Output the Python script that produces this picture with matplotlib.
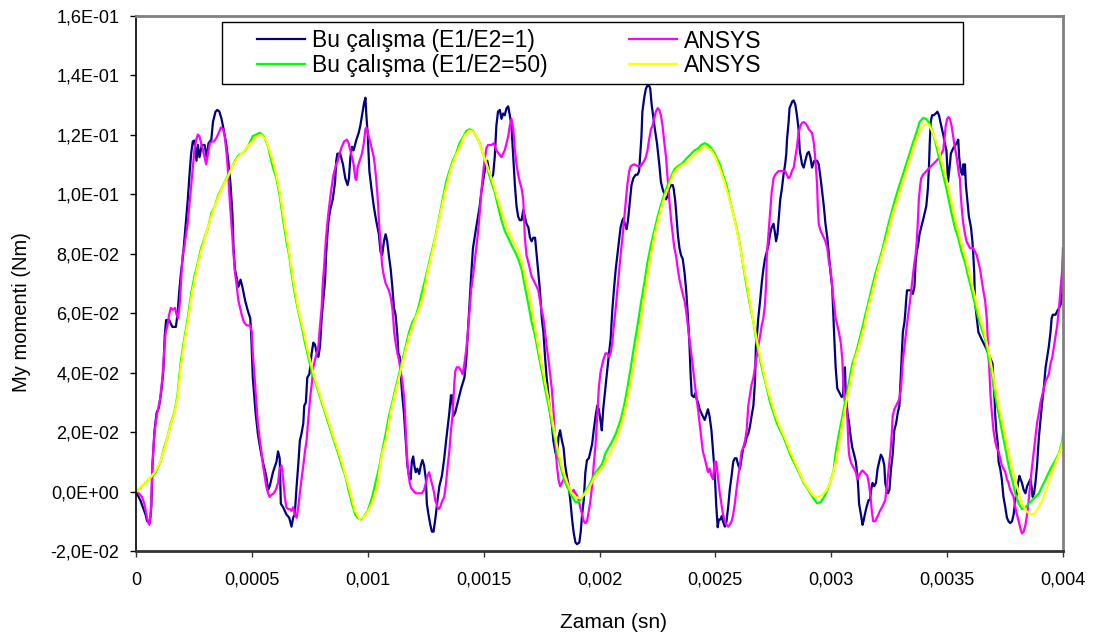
import numpy as np
import matplotlib.pyplot as plt
from matplotlib.patches import Rectangle
from matplotlib.lines import Line2D

plt.rcParams['font.family'] = ['Liberation Sans', 'DejaVu Sans']

# time in microseconds, moment in Nm

# Bu calisma (E1/E2=1)
navy_t_us = [
    0, 19, 41, 48, 60, 66, 71, 80, 89, 99,
    109, 118, 124, 130, 143, 157, 172, 179, 187, 194,
    203, 208, 216, 223, 232, 238, 245, 252, 261, 267,
    274, 284, 296, 305, 313, 325, 332, 343, 351, 360,
    369, 378, 389, 398, 407, 416, 421, 427, 436, 442,
    451, 459, 471, 483, 493, 497, 504, 516, 526, 533,
    541, 551, 562, 570, 577, 591, 606, 613, 620, 625,
    635, 649, 661, 671, 678, 685, 693, 700, 707, 714,
    722, 726, 733, 739, 748, 758, 765, 772, 780, 787,
    794, 801, 809, 816, 820, 826, 831, 838, 849, 859,
    864, 869, 881, 893, 903, 913, 919, 925, 932, 939,
    951, 961, 968, 978, 984, 990, 994, 1000, 1007, 1016,
    1026, 1036, 1048, 1055, 1062, 1070, 1077, 1084, 1091, 1099,
    1106, 1113, 1120, 1128, 1132, 1138, 1142, 1149, 1156, 1161,
    1167, 1171, 1178, 1185, 1190, 1196, 1201, 1207, 1214, 1222,
    1229, 1236, 1243, 1251, 1255, 1262, 1270, 1277, 1284, 1290,
    1294, 1301, 1309, 1320, 1330, 1338, 1345, 1352, 1359, 1364,
    1369, 1377, 1388, 1403, 1417, 1425, 1432, 1439, 1446, 1454,
    1468, 1483, 1490, 1497, 1507, 1516, 1526, 1533, 1541, 1548,
    1555, 1562, 1570, 1577, 1584, 1591, 1599, 1606, 1613, 1620,
    1628, 1635, 1642, 1649, 1656, 1664, 1671, 1678, 1685, 1693,
    1700, 1707, 1714, 1722, 1729, 1736, 1743, 1751, 1758, 1765,
    1772, 1780, 1787, 1794, 1801, 1809, 1816, 1823, 1830, 1838,
    1845, 1852, 1859, 1867, 1874, 1881, 1888, 1896, 1903, 1913,
    1919, 1925, 1932, 1939, 1946, 1954, 1961, 1968, 1975, 1983,
    1990, 1997, 2004, 2010, 2016, 2022, 2030, 2041, 2048, 2055,
    2062, 2070, 2077, 2084, 2091, 2099, 2103, 2109, 2117, 2123,
    2132, 2138, 2146, 2156, 2164, 2171, 2175, 2181, 2185, 2193,
    2200, 2207, 2214, 2219, 2225, 2233, 2239, 2248, 2258, 2265,
    2272, 2280, 2287, 2294, 2301, 2309, 2316, 2320, 2326, 2330,
    2338, 2345, 2352, 2359, 2367, 2374, 2381, 2388, 2393, 2398,
    2407, 2413, 2419, 2425, 2432, 2439, 2446, 2454, 2461, 2468,
    2475, 2483, 2490, 2497, 2504, 2510, 2515, 2522, 2528, 2533,
    2541, 2548, 2555, 2562, 2570, 2577, 2584, 2591, 2599, 2606,
    2613, 2620, 2628, 2635, 2642, 2649, 2656, 2664, 2671, 2675,
    2678, 2685, 2693, 2700, 2707, 2714, 2722, 2729, 2736, 2743,
    2751, 2758, 2762, 2768, 2774, 2780, 2787, 2794, 2801, 2806,
    2809, 2816, 2820, 2826, 2832, 2838, 2845, 2852, 2859, 2864,
    2869, 2874, 2881, 2888, 2896, 2903, 2910, 2917, 2922, 2927,
    2939, 2946, 2954, 2961, 2968, 2975, 2983, 2990, 2997, 3004,
    3009, 3014, 3019, 3026, 3033, 3041, 3045, 3051, 3055, 3059,
    3062, 3070, 3077, 3084, 3091, 3099, 3106, 3113, 3117, 3120,
    3128, 3135, 3139, 3145, 3152, 3161, 3167, 3172, 3178, 3185,
    3193, 3200, 3207, 3214, 3222, 3229, 3233, 3239, 3245, 3251,
    3258, 3265, 3272, 3280, 3287, 3294, 3299, 3303, 3309, 3316,
    3320, 3323, 3327, 3338, 3345, 3352, 3359, 3364, 3369, 3375,
    3381, 3388, 3396, 3403, 3410, 3417, 3422, 3425, 3429, 3435,
    3442, 3451, 3458, 3465, 3471, 3478, 3483, 3490, 3497, 3504,
    3512, 3516, 3522, 3530, 3541, 3548, 3552, 3559, 3565, 3570,
    3574, 3577, 3581, 3588, 3594, 3603, 3609, 3613, 3617, 3620,
    3628, 3635, 3649, 3664, 3678, 3690, 3696, 3700, 3704, 3707,
    3712, 3719, 3722, 3729, 3736, 3743, 3751, 3758, 3765, 3772,
    3780, 3787, 3794, 3801, 3806, 3812, 3817, 3823, 3830, 3838,
    3845, 3852, 3859, 3864, 3869, 3875, 3881, 3888, 3896, 3903,
    3910, 3917, 3925, 3932, 3939, 3946, 3951, 3956, 3968, 3975,
    3983, 3990, 3997, 4000,
]
navy_my = [
    0.0, -0.0030, -0.0077, -0.0100, -0.0106, -0.0053, 0.0088, 0.0206, 0.0265, 0.0283,
    0.0336, 0.0406, 0.0524, 0.0577, 0.0577, 0.0554, 0.0554, 0.0595, 0.0677, 0.0736,
    0.0795, 0.0842, 0.0913, 0.0978, 0.1078, 0.1137, 0.1178, 0.1181, 0.1113, 0.1166,
    0.1125, 0.1166, 0.1166, 0.1125, 0.1172, 0.1184, 0.1243, 0.1278, 0.1284, 0.1278,
    0.1254, 0.1219, 0.1172, 0.1113, 0.1042, 0.0936, 0.0819, 0.0748, 0.0713, 0.0689,
    0.0713, 0.0689, 0.0642, 0.0607, 0.0583, 0.0530, 0.0383, 0.0265, 0.0194, 0.0159,
    0.0124, 0.0088, 0.0052, 0.0006, 0.0018, 0.0065, 0.0100, 0.0135, 0.0112, -0.0041,
    -0.0053, -0.0077, -0.0088, -0.0118, -0.0088, -0.0077, 0.0018, 0.0088, 0.0171, 0.0194,
    0.0230, 0.0289, 0.0300, 0.0383, 0.0395, 0.0465, 0.0501, 0.0495, 0.0465, 0.0453,
    0.0489, 0.0583, 0.0654, 0.0713, 0.0795, 0.0866, 0.0913, 0.0948, 0.0983, 0.1042,
    0.1113, 0.1137, 0.1137, 0.1101, 0.1054, 0.1031, 0.1054, 0.1125, 0.1160, 0.1148,
    0.1184, 0.1207, 0.1231, 0.1278, 0.1307, 0.1325, 0.1266, 0.1200, 0.1078, 0.1019,
    0.0960, 0.0913, 0.0866, 0.0807, 0.0795, 0.0842, 0.0866, 0.0842, 0.0795, 0.0748,
    0.0689, 0.0618, 0.0595, 0.0524, 0.0465, 0.0453, 0.0395, 0.0324, 0.0265, 0.0206,
    0.0135, 0.0088, 0.0053, 0.0041, 0.0100, 0.0118, 0.0088, 0.0065, 0.0077, 0.0059,
    0.0088, 0.0106, 0.0088, 0.0041, -0.0041, -0.0077, -0.0112, -0.0135, -0.0135, -0.0100,
    -0.0077, -0.0029, 0.0018, 0.0053, 0.0112, 0.0171, 0.0218, 0.0265, 0.0324, 0.0324,
    0.0253, 0.0265, 0.0300, 0.0347, 0.0383, 0.0442, 0.0536, 0.0630, 0.0724, 0.0819,
    0.0889, 0.0960, 0.1007, 0.1042, 0.1090, 0.1113, 0.1066, 0.1054, 0.1066, 0.1125,
    0.1231, 0.1278, 0.1284, 0.1254, 0.1272, 0.1266, 0.1290, 0.1296, 0.1266, 0.1231,
    0.1125, 0.1031, 0.0960, 0.0925, 0.0913, 0.0913, 0.0948, 0.0925, 0.0901, 0.0889,
    0.0854, 0.0842, 0.0854, 0.0854, 0.0795, 0.0736, 0.0677, 0.0583, 0.0536, 0.0453,
    0.0383, 0.0324, 0.0265, 0.0230, 0.0171, 0.0135, 0.0112, 0.0183, 0.0206, 0.0171,
    0.0147, 0.0088, 0.0053, 0.0018, -0.0029, -0.0088, -0.0135, -0.0171, -0.0177, -0.0171,
    -0.0135, -0.0077, -0.0029, 0.0065, 0.0106, 0.0112, 0.0135, 0.0159, 0.0206, 0.0253,
    0.0289, 0.0277, 0.0241, 0.0206, 0.0277, 0.0324, 0.0383, 0.0465, 0.0512, 0.0607,
    0.0677, 0.0748, 0.0795, 0.0842, 0.0889, 0.0913, 0.0919, 0.0901, 0.0883, 0.0913,
    0.0983, 0.1031, 0.1054, 0.1066, 0.1066, 0.1078, 0.1125, 0.1195, 0.1278, 0.1325,
    0.1355, 0.1366, 0.1366, 0.1355, 0.1302, 0.1254, 0.1219, 0.1172, 0.1101, 0.1042,
    0.1019, 0.1001, 0.0983, 0.0995, 0.1019, 0.1031, 0.1031, 0.1019, 0.0983, 0.0948,
    0.0866, 0.0819, 0.0795, 0.0783, 0.0736, 0.0677, 0.0594, 0.0500, 0.0395, 0.0324,
    0.0318, 0.0330, 0.0312, 0.0300, 0.0277, 0.0265, 0.0253, 0.0241, 0.0259, 0.0277,
    0.0253, 0.0206, 0.0135, 0.0065, -0.0050, -0.0120, -0.0094, -0.0094, -0.0082, -0.0100,
    -0.0118, -0.0100, -0.0053, 0.0006, 0.0053, 0.0100, 0.0112, 0.0112, 0.0088, 0.0077,
    0.0112, 0.0147, 0.0159, 0.0183, 0.0194, 0.0218, 0.0253, 0.0289, 0.0371, 0.0489,
    0.0512, 0.0583, 0.0642, 0.0701, 0.0748, 0.0783, 0.0807, 0.0830, 0.0866, 0.0889,
    0.0901, 0.0866, 0.0842, 0.0866, 0.0925, 0.0983, 0.1019, 0.1066, 0.1101, 0.1137,
    0.1184, 0.1243, 0.1290, 0.1302, 0.1313, 0.1316, 0.1302, 0.1266, 0.1219, 0.1148,
    0.1125, 0.1101, 0.1090, 0.1113, 0.1137, 0.1143, 0.1125, 0.1090, 0.1101, 0.1113,
    0.1113, 0.1101, 0.1054, 0.1007, 0.0960, 0.0901, 0.0854, 0.0795, 0.0736, 0.0689,
    0.0595, 0.0501, 0.0418, 0.0347, 0.0336, 0.0324, 0.0318, 0.0324, 0.0406, 0.0418,
    0.0347, 0.0265, 0.0230, 0.0183, 0.0147, 0.0124, 0.0100, 0.0053, 0.0006, -0.0041,
    -0.0077, -0.0112, -0.0100, -0.0077, -0.0053, -0.0029, -0.0029, 0.0006, 0.0029, 0.0018,
    0.0029, 0.0077, 0.0100, 0.0124, 0.0112, 0.0088, 0.0029, 0.0006, -0.0006, 0.0006,
    0.0077, 0.0124, 0.0206, 0.0230, 0.0265, 0.0289, 0.0371, 0.0442, 0.0536, 0.0571,
    0.0607, 0.0642, 0.0677, 0.0677, 0.0677, 0.0665, 0.0689, 0.0771, 0.0807, 0.0830,
    0.0866, 0.0889, 0.0913, 0.0936, 0.0960, 0.1019, 0.1101, 0.1172, 0.1243, 0.1266,
    0.1266, 0.1272, 0.1278, 0.1266, 0.1243, 0.1219, 0.1201, 0.1172, 0.1148, 0.1042,
    0.1101, 0.1137, 0.1148, 0.1160, 0.1172, 0.1184, 0.1125, 0.1078, 0.1066, 0.1101,
    0.1066, 0.1101, 0.1031, 0.0972, 0.0925, 0.0889, 0.0842, 0.0795, 0.0736, 0.0642,
    0.0583, 0.0536, 0.0512, 0.0489, 0.0465, 0.0442, 0.0430, 0.0371, 0.0324, 0.0265,
    0.0206, 0.0159, 0.0100, 0.0077, 0.0041, -0.0018, -0.0053, -0.0088, -0.0100, -0.0106,
    -0.0100, -0.0077, -0.0029, -0.0006, 0.0029, 0.0053, 0.0041, 0.0029, 0.0006, -0.0006,
    0.0018, 0.0029, 0.0041, 0.0018, -0.0018, -0.0006, 0.0029, 0.0088, 0.0183, 0.0241,
    0.0300, 0.0347, 0.0418, 0.0453, 0.0489, 0.0536, 0.0583, 0.0595, 0.0595, 0.0607,
    0.0618, 0.0630, 0.0665, 0.0819,
]

# ANSYS (E1/E2=1)
mag_t_us = [
    0, 12, 26, 36, 45, 51, 57, 63, 67, 71,
    77, 85, 92, 104, 114, 121, 128, 136, 143, 150,
    159, 168, 175, 182, 190, 194, 201, 208, 216, 223,
    230, 238, 245, 252, 260, 267, 274, 281, 289, 296,
    303, 308, 313, 319, 328, 337, 347, 357, 366, 376,
    383, 391, 398, 405, 413, 420, 427, 435, 442, 449,
    456, 465, 478, 493, 500, 504, 512, 519, 526, 533,
    541, 548, 555, 562, 570, 577, 584, 594, 603, 613,
    620, 628, 635, 642, 649, 656, 664, 671, 678, 685,
    693, 700, 707, 714, 722, 729, 736, 743, 751, 758,
    765, 772, 780, 787, 794, 801, 806, 812, 820, 830,
    841, 852, 864, 871, 878, 888, 898, 910, 917, 925,
    932, 939, 946, 951, 956, 965, 975, 983, 990, 994,
    1000, 1004, 1012, 1019, 1026, 1030, 1036, 1041, 1045, 1048,
    1052, 1055, 1059, 1062, 1070, 1077, 1084, 1091, 1099, 1106,
    1110, 1114, 1120, 1128, 1135, 1142, 1149, 1156, 1161, 1164,
    1167, 1171, 1175, 1181, 1187, 1193, 1207, 1222, 1233, 1243,
    1251, 1258, 1265, 1272, 1280, 1287, 1291, 1297, 1301, 1306,
    1312, 1317, 1323, 1330, 1338, 1345, 1352, 1359, 1367, 1371,
    1374, 1378, 1384, 1393, 1403, 1410, 1417, 1425, 1432, 1439,
    1446, 1454, 1461, 1468, 1475, 1483, 1490, 1497, 1504, 1512,
    1519, 1533, 1545, 1555, 1565, 1577, 1584, 1591, 1599, 1606,
    1613, 1620, 1628, 1635, 1642, 1649, 1656, 1664, 1671, 1675,
    1678, 1685, 1693, 1700, 1707, 1714, 1722, 1729, 1736, 1743,
    1751, 1758, 1765, 1772, 1780, 1787, 1794, 1801, 1806, 1812,
    1816, 1823, 1830, 1838, 1845, 1852, 1859, 1867, 1874, 1881,
    1888, 1896, 1903, 1910, 1917, 1925, 1932, 1939, 1946, 1954,
    1961, 1968, 1975, 1983, 1990, 1997, 2004, 2016, 2026, 2033,
    2041, 2048, 2055, 2062, 2070, 2077, 2084, 2091, 2099, 2106,
    2113, 2120, 2128, 2135, 2149, 2164, 2178, 2193, 2200, 2207,
    2214, 2222, 2229, 2236, 2243, 2251, 2258, 2265, 2272, 2280,
    2287, 2294, 2301, 2309, 2316, 2323, 2330, 2338, 2345, 2352,
    2359, 2367, 2374, 2381, 2388, 2396, 2403, 2410, 2417, 2425,
    2432, 2439, 2446, 2454, 2461, 2468, 2475, 2483, 2490, 2497,
    2504, 2512, 2519, 2526, 2533, 2541, 2548, 2555, 2562, 2570,
    2577, 2584, 2591, 2599, 2606, 2613, 2620, 2628, 2635, 2642,
    2649, 2656, 2664, 2671, 2678, 2685, 2693, 2700, 2707, 2714,
    2719, 2722, 2729, 2736, 2743, 2751, 2758, 2772, 2787, 2801,
    2816, 2823, 2830, 2838, 2845, 2852, 2859, 2867, 2874, 2881,
    2888, 2896, 2903, 2917, 2925, 2932, 2939, 2942, 2946, 2954,
    2961, 2968, 2975, 2983, 2990, 2997, 3004, 3012, 3019, 3026,
    3033, 3041, 3048, 3051, 3055, 3059, 3065, 3070, 3074, 3077,
    3084, 3091, 3099, 3106, 3113, 3120, 3128, 3135, 3142, 3149,
    3156, 3164, 3171, 3175, 3181, 3190, 3197, 3204, 3210, 3219,
    3226, 3233, 3236, 3243, 3251, 3258, 3262, 3265, 3272, 3280,
    3287, 3294, 3301, 3309, 3316, 3323, 3330, 3338, 3345, 3352,
    3359, 3364, 3369, 3374, 3378, 3384, 3388, 3396, 3410, 3425,
    3439, 3454, 3468, 3475, 3483, 3490, 3494, 3500, 3506, 3512,
    3519, 3526, 3533, 3541, 3545, 3551, 3555, 3559, 3565, 3570,
    3577, 3584, 3591, 3599, 3613, 3620, 3628, 3635, 3642, 3649,
    3656, 3664, 3671, 3675, 3678, 3683, 3687, 3693, 3700, 3707,
    3714, 3722, 3729, 3736, 3743, 3751, 3758, 3765, 3772, 3780,
    3787, 3794, 3801, 3809, 3816, 3823, 3830, 3838, 3845, 3852,
    3859, 3867, 3874, 3881, 3888, 3896, 3903, 3910, 3917, 3925,
    3932, 3939, 3946, 3954, 3961, 3968, 3975, 3983, 3990, 3997,
    4000,
]
mag_my = [
    0.0, -0.0006, -0.0018, -0.0041, -0.0077, -0.0100, -0.0112, -0.0077, -0.0006, 0.0088,
    0.0171, 0.0230, 0.0265, 0.0312, 0.0383, 0.0465, 0.0536, 0.0559, 0.0595, 0.0618,
    0.0612, 0.0618, 0.0595, 0.0583, 0.0642, 0.0701, 0.0795, 0.0819, 0.0866, 0.0901,
    0.0960, 0.1031, 0.1090, 0.1148, 0.1184, 0.1201, 0.1195, 0.1172, 0.1148, 0.1125,
    0.1101, 0.1125, 0.1148, 0.1172, 0.1178, 0.1178, 0.1190, 0.1207, 0.1225, 0.1219,
    0.1195, 0.1137, 0.1066, 0.0972, 0.0889, 0.0807, 0.0736, 0.0689, 0.0642, 0.0618,
    0.0595, 0.0571, 0.0559, 0.0559, 0.0536, 0.0465, 0.0383, 0.0300, 0.0230, 0.0183,
    0.0135, 0.0088, 0.0053, 0.0018, -0.0006, -0.0018, -0.0012, -0.0006, 0.0006, 0.0029,
    0.0077, 0.0088, 0.0041, -0.0018, -0.0053, -0.0059, -0.0059, -0.0065, -0.0053, -0.0077,
    -0.0088, -0.0053, -0.0006, 0.0041, 0.0088, 0.0135, 0.0171, 0.0241, 0.0312, 0.0359,
    0.0418, 0.0442, 0.0465, 0.0489, 0.0559, 0.0618, 0.0701, 0.0760, 0.0854, 0.0936,
    0.1007, 0.1066, 0.1101, 0.1113, 0.1137, 0.1160, 0.1178, 0.1184, 0.1172, 0.1148,
    0.1125, 0.1101, 0.1054, 0.1048, 0.1090, 0.1113, 0.1137, 0.1172, 0.1219, 0.1225,
    0.1207, 0.1196, 0.1172, 0.1148, 0.1125, 0.1101, 0.1054, 0.1007, 0.0960, 0.0913,
    0.0866, 0.0842, 0.0795, 0.0760, 0.0724, 0.0701, 0.0689, 0.0677, 0.0654, 0.0618,
    0.0583, 0.0536, 0.0501, 0.0465, 0.0442, 0.0406, 0.0371, 0.0324, 0.0265, 0.0206,
    0.0147, 0.0100, 0.0065, 0.0029, 0.0012, 0.0006, -0.0006, -0.0006, -0.0006, 0.0006,
    0.0029, 0.0053, 0.0065, 0.0041, 0.0018, -0.0006, -0.0029, -0.0041, -0.0053, -0.0059,
    -0.0053, -0.0041, -0.0029, -0.0018, 0.0029, 0.0088, 0.0135, 0.0206, 0.0265, 0.0324,
    0.0371, 0.0406, 0.0418, 0.0418, 0.0406, 0.0395, 0.0430, 0.0477, 0.0536, 0.0607,
    0.0677, 0.0724, 0.0771, 0.0819, 0.0866, 0.0936, 0.1007, 0.1066, 0.1113, 0.1155,
    0.1166, 0.1166, 0.1172, 0.1148, 0.1137, 0.1125, 0.1137, 0.1148, 0.1172, 0.1195,
    0.1231, 0.1254, 0.1219, 0.1148, 0.1101, 0.1066, 0.1042, 0.1019, 0.0983, 0.0913,
    0.0854, 0.0795, 0.0771, 0.0748, 0.0724, 0.0713, 0.0701, 0.0689, 0.0677, 0.0642,
    0.0607, 0.0583, 0.0536, 0.0489, 0.0442, 0.0395, 0.0347, 0.0277, 0.0206, 0.0135,
    0.0088, 0.0041, 0.0018, 0.0029, 0.0041, 0.0053, 0.0041, 0.0018, 0.0000, -0.0006,
    0.0006, -0.0006, -0.0012, -0.0029, -0.0053, -0.0077, -0.0100, -0.0106, -0.0100, -0.0065,
    -0.0029, 0.0018, 0.0088, 0.0159, 0.0253, 0.0347, 0.0400, 0.0442, 0.0465, 0.0465,
    0.0453, 0.0465, 0.0501, 0.0559, 0.0618, 0.0677, 0.0736, 0.0795, 0.0854, 0.0913,
    0.0972, 0.1031, 0.1078, 0.1095, 0.1101, 0.1095, 0.1095, 0.1113, 0.1125, 0.1148,
    0.1184, 0.1219, 0.1231, 0.1254, 0.1278, 0.1290, 0.1284, 0.1266, 0.1231, 0.1172,
    0.1125, 0.1054, 0.0983, 0.0913, 0.0866, 0.0819, 0.0795, 0.0748, 0.0713, 0.0689,
    0.0665, 0.0642, 0.0607, 0.0559, 0.0512, 0.0465, 0.0418, 0.0371, 0.0324, 0.0277,
    0.0230, 0.0183, 0.0135, 0.0112, 0.0088, 0.0065, 0.0077, 0.0053, 0.0041, 0.0100,
    0.0100, 0.0041, -0.0006, -0.0041, -0.0077, -0.0100, -0.0112, -0.0118, -0.0112, -0.0100,
    -0.0077, -0.0041, 0.0006, 0.0053, 0.0088, 0.0135, 0.0147, 0.0171, 0.0206, 0.0289,
    0.0324, 0.0359, 0.0383, 0.0418, 0.0453, 0.0489, 0.0524, 0.0559, 0.0583, 0.0629,
    0.0701, 0.0795, 0.0866, 0.0936, 0.1007, 0.1054, 0.1066, 0.1078, 0.1078, 0.1078,
    0.1054, 0.1060, 0.1078, 0.1090, 0.1125, 0.1160, 0.1207, 0.1231, 0.1240, 0.1243,
    0.1240, 0.1231, 0.1219, 0.1207, 0.1172, 0.1113, 0.1031, 0.0960, 0.0901, 0.0877,
    0.0866, 0.0854, 0.0842, 0.0819, 0.0771, 0.0748, 0.0690, 0.0630, 0.0583, 0.0559,
    0.0536, 0.0501, 0.0442, 0.0383, 0.0324, 0.0300, 0.0289, 0.0241, 0.0159, 0.0124,
    0.0100, 0.0088, 0.0077, 0.0065, 0.0041, 0.0053, 0.0065, 0.0071, 0.0065, 0.0059,
    0.0053, 0.0018, -0.0029, -0.0065, -0.0100, -0.0100, -0.0088, -0.0077, -0.0065, -0.0053,
    -0.0041, -0.0029, -0.0006, 0.0041, 0.0100, 0.0159, 0.0206, 0.0253, 0.0277, 0.0289,
    0.0300, 0.0312, 0.0347, 0.0442, 0.0489, 0.0536, 0.0583, 0.0630, 0.0677, 0.0724,
    0.0771, 0.0795, 0.0842, 0.0913, 0.0983, 0.1031, 0.1054, 0.1066, 0.1078, 0.1090,
    0.1101, 0.1113, 0.1125, 0.1137, 0.1148, 0.1196, 0.1231, 0.1254, 0.1260, 0.1254,
    0.1231, 0.1196, 0.1160, 0.1125, 0.1101, 0.1066, 0.1054, 0.0995, 0.0936, 0.0901,
    0.0866, 0.0842, 0.0830, 0.0819, 0.0819, 0.0807, 0.0795, 0.0771, 0.0748, 0.0713,
    0.0677, 0.0642, 0.0583, 0.0512, 0.0465, 0.0395, 0.0324, 0.0265, 0.0206, 0.0171,
    0.0147, 0.0135, 0.0112, 0.0088, 0.0077, 0.0065, 0.0041, 0.0029, 0.0006, -0.0006,
    -0.0018, -0.0053, -0.0077, -0.0100, -0.0124, -0.0141, -0.0135, -0.0112, -0.0077, -0.0029,
    0.0029, 0.0088, 0.0135, 0.0183, 0.0230, 0.0265, 0.0300, 0.0324, 0.0347, 0.0371,
    0.0383, 0.0395, 0.0430, 0.0453, 0.0489, 0.0524, 0.0559, 0.0618, 0.0689, 0.0748,
    0.0795,
]

# Bu calisma (E1/E2=50)
green_t_us = [
    0, 19, 41, 63, 85, 106, 121, 136, 150, 165,
    179, 194, 208, 223, 238, 252, 267, 281, 296, 311,
    325, 340, 354, 369, 383, 398, 413, 427, 442, 456,
    471, 486, 504, 519, 533, 545, 555, 570, 580, 591,
    606, 620, 635, 649, 661, 671, 685, 700, 714, 729,
    743, 758, 772, 787, 801, 816, 830, 845, 859, 874,
    888, 903, 917, 932, 946, 956, 968, 980, 990, 1000,
    1019, 1033, 1048, 1062, 1077, 1091, 1106, 1120, 1135, 1149,
    1164, 1178, 1193, 1207, 1222, 1236, 1251, 1265, 1280, 1294,
    1309, 1323, 1338, 1352, 1367, 1381, 1396, 1410, 1425, 1439,
    1454, 1468, 1483, 1497, 1508, 1519, 1533, 1548, 1562, 1577,
    1591, 1606, 1620, 1635, 1649, 1664, 1678, 1693, 1707, 1722,
    1736, 1751, 1765, 1780, 1794, 1809, 1823, 1838, 1852, 1867,
    1881, 1896, 1910, 1925, 1939, 1954, 1968, 1983, 1997, 2012,
    2026, 2048, 2070, 2091, 2106, 2120, 2135, 2149, 2164, 2178,
    2193, 2207, 2222, 2236, 2251, 2265, 2280, 2294, 2309, 2323,
    2338, 2352, 2367, 2381, 2396, 2410, 2425, 2439, 2454, 2468,
    2483, 2497, 2519, 2533, 2548, 2562, 2577, 2591, 2606, 2620,
    2635, 2649, 2664, 2678, 2693, 2707, 2722, 2736, 2751, 2765,
    2780, 2794, 2809, 2823, 2838, 2852, 2867, 2881, 2896, 2910,
    2925, 2939, 2954, 2968, 2983, 2997, 3010, 3019, 3033, 3048,
    3062, 3077, 3091, 3106, 3120, 3135, 3149, 3164, 3178, 3193,
    3207, 3222, 3236, 3251, 3265, 3280, 3294, 3309, 3323, 3338,
    3352, 3367, 3381, 3396, 3410, 3425, 3439, 3454, 3468, 3483,
    3497, 3519, 3533, 3548, 3562, 3577, 3591, 3606, 3620, 3635,
    3649, 3664, 3678, 3693, 3707, 3722, 3736, 3751, 3765, 3780,
    3794, 3809, 3823, 3838, 3852, 3867, 3881, 3896, 3910, 3925,
    3939, 3954, 3968, 3983, 3997, 4000,
]
green_my = [
    0.0, 0.0012, 0.0030, 0.0047, 0.0065, 0.0100, 0.0147, 0.0183, 0.0230, 0.0265,
    0.0324, 0.0442, 0.0512, 0.0583, 0.0665, 0.0724, 0.0771, 0.0819, 0.0854, 0.0889,
    0.0936, 0.0960, 0.0995, 0.1019, 0.1042, 0.1066, 0.1090, 0.1113, 0.1131, 0.1137,
    0.1148, 0.1166, 0.1196, 0.1201, 0.1207, 0.1201, 0.1190, 0.1160, 0.1125, 0.1090,
    0.1054, 0.0995, 0.0913, 0.0842, 0.0795, 0.0736, 0.0665, 0.0607, 0.0559, 0.0501,
    0.0453, 0.0406, 0.0371, 0.0336, 0.0300, 0.0265, 0.0230, 0.0194, 0.0159, 0.0124,
    0.0088, 0.0053, 0.0006, -0.0041, -0.0077, -0.0088, -0.0094, -0.0088, -0.0077, -0.0065,
    -0.0018, 0.0029, 0.0077, 0.0135, 0.0194, 0.0253, 0.0300, 0.0347, 0.0395, 0.0442,
    0.0489, 0.0536, 0.0571, 0.0589, 0.0630, 0.0677, 0.0724, 0.0771, 0.0819, 0.0866,
    0.0925, 0.0983, 0.1042, 0.1078, 0.1113, 0.1137, 0.1172, 0.1190, 0.1213, 0.1219,
    0.1213, 0.1196, 0.1172, 0.1137, 0.1115, 0.1078, 0.1042, 0.1007, 0.0960, 0.0913,
    0.0877, 0.0854, 0.0830, 0.0807, 0.0783, 0.0748, 0.0689, 0.0630, 0.0571, 0.0524,
    0.0465, 0.0406, 0.0347, 0.0289, 0.0230, 0.0171, 0.0112, 0.0065, 0.0029, 0.0006,
    -0.0018, -0.0035, -0.0035, -0.0020, 0.0000, 0.0018, 0.0041, 0.0065, 0.0077, 0.0094,
    0.0130, 0.0159, 0.0194, 0.0241, 0.0289, 0.0347, 0.0418, 0.0489, 0.0559, 0.0630,
    0.0701, 0.0771, 0.0830, 0.0877, 0.0925, 0.0965, 0.1001, 0.1031, 0.1060, 0.1084,
    0.1095, 0.1101, 0.1113, 0.1125, 0.1137, 0.1148, 0.1154, 0.1166, 0.1172, 0.1166,
    0.1154, 0.1137, 0.1101, 0.1066, 0.1031, 0.0983, 0.0936, 0.0889, 0.0830, 0.0760,
    0.0689, 0.0630, 0.0571, 0.0501, 0.0442, 0.0395, 0.0347, 0.0300, 0.0265, 0.0230,
    0.0206, 0.0183, 0.0153, 0.0124, 0.0100, 0.0077, 0.0053, 0.0029, 0.0012, -0.0006,
    -0.0025, -0.0040, -0.0035, -0.0020, 0.0005, 0.0035, 0.0070, 0.0130, 0.0194, 0.0253,
    0.0312, 0.0371, 0.0430, 0.0465, 0.0506, 0.0554, 0.0601, 0.0648, 0.0695, 0.0741,
    0.0776, 0.0819, 0.0866, 0.0913, 0.0954, 0.0995, 0.1031, 0.1066, 0.1101, 0.1137,
    0.1172, 0.1207, 0.1243, 0.1257, 0.1254, 0.1237, 0.1207, 0.1160, 0.1113, 0.1066,
    0.1019, 0.0936, 0.0889, 0.0854, 0.0807, 0.0771, 0.0724, 0.0677, 0.0630, 0.0583,
    0.0548, 0.0512, 0.0453, 0.0395, 0.0324, 0.0265, 0.0206, 0.0146, 0.0088, 0.0041,
    -0.0006, -0.0041, -0.0059, -0.0053, -0.0041, -0.0029, -0.0018, -0.0006, 0.0018, 0.0041,
    0.0065, 0.0088, 0.0106, 0.0130, 0.0170, 0.0194,
]

# ANSYS (E1/E2=50)
yellow_t_us = [
    0, 20, 40, 60, 85, 105, 125, 150, 165, 180,
    195, 210, 225, 240, 255, 270, 285, 300, 320, 340,
    360, 380, 400, 420, 440, 460, 480, 500, 520, 540,
    560, 580, 600, 620, 640, 660, 680, 700, 720, 745,
    770, 800, 830, 860, 890, 920, 945, 965, 985, 1000,
    1020, 1040, 1060, 1080, 1100, 1120, 1140, 1160, 1180, 1200,
    1220, 1240, 1260, 1280, 1300, 1320, 1340, 1360, 1380, 1400,
    1420, 1440, 1455, 1470, 1485, 1500, 1520, 1540, 1560, 1580,
    1600, 1620, 1640, 1660, 1680, 1700, 1720, 1740, 1760, 1780,
    1800, 1820, 1840, 1860, 1880, 1900, 1920, 1940, 1960, 1980,
    2000, 2020, 2040, 2060, 2080, 2100, 2120, 2140, 2160, 2180,
    2200, 2220, 2240, 2260, 2280, 2300, 2320, 2340, 2360, 2380,
    2400, 2420, 2440, 2460, 2480, 2500, 2520, 2540, 2560, 2580,
    2600, 2620, 2640, 2660, 2680, 2700, 2720, 2740, 2760, 2780,
    2800, 2820, 2840, 2860, 2880, 2900, 2920, 2940, 2960, 2980,
    3000, 3020, 3040, 3060, 3080, 3100, 3120, 3140, 3160, 3180,
    3200, 3220, 3240, 3260, 3280, 3300, 3320, 3340, 3360, 3380,
    3400, 3420, 3440, 3460, 3480, 3500, 3520, 3540, 3560, 3580,
    3600, 3620, 3640, 3660, 3680, 3700, 3720, 3740, 3760, 3780,
    3800, 3820, 3840, 3860, 3875, 3890, 3910, 3930, 3950, 3970,
    3990, 4000,
]
yellow_my = [
    0.0, 0.0015, 0.0028, 0.0045, 0.0070, 0.0100, 0.0150, 0.0225, 0.0260, 0.0320,
    0.0430, 0.0510, 0.0580, 0.0660, 0.0720, 0.0775, 0.0820, 0.0860, 0.0915, 0.0960,
    0.1000, 0.1035, 0.1065, 0.1100, 0.1125, 0.1140, 0.1160, 0.1175, 0.1195, 0.1200,
    0.1185, 0.1140, 0.1085, 0.1010, 0.0905, 0.0810, 0.0705, 0.0615, 0.0550, 0.0460,
    0.0385, 0.0310, 0.0240, 0.0165, 0.0095, 0.0010, -0.0065, -0.0092, -0.0085, -0.0068,
    -0.0035, 0.0015, 0.0120, 0.0180, 0.0270, 0.0335, 0.0400, 0.0465, 0.0525, 0.0570,
    0.0610, 0.0660, 0.0745, 0.0810, 0.0885, 0.0960, 0.1030, 0.1090, 0.1130, 0.1165,
    0.1200, 0.1215, 0.1210, 0.1195, 0.1165, 0.1130, 0.1085, 0.1040, 0.0985, 0.0935,
    0.0890, 0.0855, 0.0825, 0.0790, 0.0720, 0.0650, 0.0560, 0.0470, 0.0390, 0.0310,
    0.0225, 0.0140, 0.0075, 0.0030, -0.0005, -0.0020, -0.0022, -0.0005, 0.0020, 0.0050,
    0.0070, 0.0090, 0.0120, 0.0150, 0.0190, 0.0240, 0.0310, 0.0390, 0.0480, 0.0585,
    0.0690, 0.0790, 0.0870, 0.0935, 0.0990, 0.1030, 0.1070, 0.1090, 0.1100, 0.1110,
    0.1125, 0.1140, 0.1155, 0.1160, 0.1150, 0.1125, 0.1085, 0.1040, 0.0985, 0.0925,
    0.0850, 0.0765, 0.0680, 0.0590, 0.0505, 0.0430, 0.0360, 0.0305, 0.0255, 0.0215,
    0.0180, 0.0140, 0.0105, 0.0070, 0.0035, 0.0010, -0.0012, -0.0020, -0.0012, 0.0005,
    0.0040, 0.0100, 0.0190, 0.0280, 0.0360, 0.0440, 0.0490, 0.0550, 0.0620, 0.0680,
    0.0745, 0.0800, 0.0855, 0.0920, 0.0970, 0.1020, 0.1070, 0.1120, 0.1170, 0.1210,
    0.1235, 0.1235, 0.1205, 0.1160, 0.1100, 0.1040, 0.0970, 0.0900, 0.0840, 0.0785,
    0.0720, 0.0655, 0.0590, 0.0535, 0.0470, 0.0385, 0.0300, 0.0225, 0.0150, 0.0080,
    0.0020, -0.0035, -0.0065, -0.0077, -0.0075, -0.0060, -0.0030, 0.0010, 0.0060, 0.0100,
    0.0140, 0.0170,
]

x_ticks = [0, 0.0005, 0.001, 0.0015, 0.002, 0.0025, 0.003, 0.0035, 0.004]
x_tick_labels = ['0', '0,0005', '0,001', '0,0015', '0,002', '0,0025', '0,003', '0,0035', '0,004']
y_ticks = [-0.02, 0, 0.02, 0.04, 0.06, 0.08, 0.10, 0.12, 0.14, 0.16]
y_tick_labels = ['-2,0E-02', '0,0E+00', '2,0E-02', '4,0E-02', '6,0E-02',
                 '8,0E-02', '1,0E-01', '1,2E-01', '1,4E-01', '1,6E-01']

labels = ['Bu çalışma (E1/E2=1)', 'ANSYS', 'Bu çalışma (E1/E2=50)', 'ANSYS']
colors = ['#000080', '#FF00FF', '#00FF00', '#FFFF00']

W, H = 1105, 641
fig = plt.figure(figsize=(W / 100, H / 100), dpi=100)
ax = fig.add_axes([136 / W, 1 - 551 / H, 927 / W, 535 / H])

lw = 1.6
series = [(navy_t_us, navy_my), (mag_t_us, mag_my),
          (green_t_us, green_my), (yellow_t_us, yellow_my)]
for (t_us, my), c in zip(series, colors):
    ax.plot(np.array(t_us) / 1e6, my, color=c, lw=lw, zorder=2)

ax.set_xlim(0, 0.004)
ax.set_ylim(-0.02, 0.16)
ax.set_xticks(x_ticks)
ax.set_xticklabels(x_tick_labels)
ax.set_yticks(y_ticks)
ax.set_yticklabels(y_tick_labels)
ax.tick_params(axis='both', direction='out', length=4, width=1, labelsize=13)
ax.tick_params(axis='y', pad=8, color='black')
ax.tick_params(axis='x', pad=11, color='#333333')

ax.spines['left'].set_color('black')
ax.spines['left'].set_linewidth(1.2)
ax.spines['bottom'].set_color('#333333')
ax.spines['bottom'].set_linewidth(2)
for s in ['top', 'right']:
    ax.spines[s].set_color('#808080')
    ax.spines[s].set_linewidth(2)

fig.text(22 / W, 1 - 312 / H, 'My momenti (Nm)', rotation=90,
         ha='center', va='center', fontsize=14.5)
fig.text(613 / W, 1 - 622 / H, 'Zaman (sn)', ha='center', va='center', fontsize=15)

# legend box spanning most of the top of the plot
x0, x1 = (222 - 136) / 927, (963 - 136) / 927
y0, y1 = (551 - 84) / 535, (551 - 22) / 535
ax.add_patch(Rectangle((x0, y0), x1 - x0, y1 - y0, transform=ax.transAxes,
                       facecolor='white', edgecolor='black', lw=1, zorder=10))

handles = [Line2D([], [], color=c, lw=lw) for c in colors]
leg_kw = dict(loc='upper left', frameon=False, fontsize=16.5, handlelength=2.1,
              handletextpad=0.3, labelspacing=0.07, borderpad=0, borderaxespad=0,
              bbox_transform=ax.transAxes)
leg1 = ax.legend([handles[0], handles[2]], [labels[0], labels[2]],
                 bbox_to_anchor=((257 - 136) / 927, (551 - 29.5) / 535), **leg_kw)
leg1.set_zorder(11)
ax.add_artist(leg1)
leg2 = ax.legend([handles[1], handles[3]], [labels[1], labels[3]],
                 bbox_to_anchor=((629 - 136) / 927, (551 - 29.5) / 535), **leg_kw)
leg2.set_zorder(11)

fig.savefig('out.png', dpi=100)
